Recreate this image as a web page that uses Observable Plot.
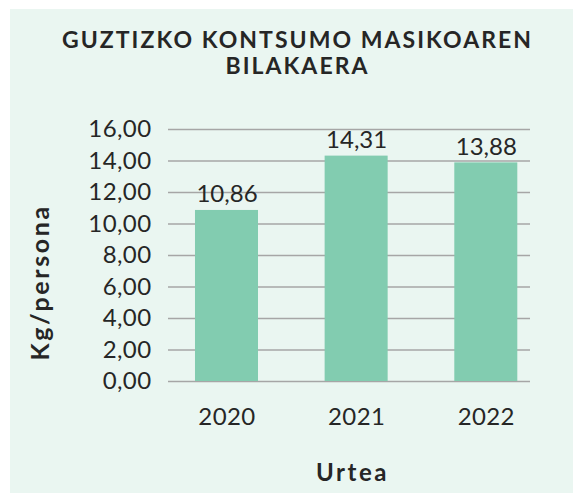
<!DOCTYPE html>
<html>
<head>
<meta charset="utf-8">
<script src="https://cdn.jsdelivr.net/npm/d3@7"></script>
<script src="https://cdn.jsdelivr.net/npm/@observablehq/plot@0.6"></script>
<style>
  html, body { margin: 0; padding: 0; background: #ffffff; }
  #wrap { position: absolute; left: 10px; top: 9px; width: 563px; height: 484px; background: #eaf6f1; overflow: hidden; }
  #title { position: absolute; left: 6px; top: 16.5px; width: 563px; text-align: center; font-family: Lato, sans-serif; font-weight: bold; font-size: 23px; line-height: 26.6px; letter-spacing: 2.05px; color: #262626; }
  #chart { position: absolute; left: 0; top: 81px; }
  #chart g[font-weight="bold"] { letter-spacing: 2.6px; }
  #chart g[aria-label="y-axis tick label"], #chart g[aria-label="x-axis tick label"] { letter-spacing: 0.4px; }
</style>
</head>
<body>
<div id="wrap">
  <div id="title">GUZTIZKO KONTSUMO MASIKOAREN<br>BILAKAERA</div>
  <div id="chart"></div>
</div>
<script>
const years = ["2020", "2021", "2022"];
const values = [10.86, 14.31, 13.88];
const yTicks = [0, 2, 4, 6, 8, 10, 12, 14, 16];
const yTitle = "Kg/persona";
const xTitle = "Urtea";

const data = years.map((y, i) => ({year: y, value: values[i]}));
const fmt = d => d.toFixed(2).replace(".", ",");

const chart = Plot.plot({
  width: 563,
  height: 403,
  marginLeft: 158,
  marginRight: 43,
  marginTop: 39,
  marginBottom: 112,
  style: {background: "transparent", fontFamily: "Lato, sans-serif", fontSize: "24px", color: "#262626"},
  x: {domain: years, paddingInner: 0.514, paddingOuter: 0.153, align: 0.68, round: false, label: null},
  y: {domain: [0, 16], label: null},
  marks: [
    Plot.gridY(yTicks, {stroke: "#a6a6a6", strokeOpacity: 1, strokeWidth: 1.5}),
    Plot.barY(data, {x: "year", y: "value", fill: "#82ccb0"}),
    Plot.text(data, {x: "year", y: "value", text: d => fmt(d.value), lineAnchor: "bottom", dy: -8, fill: "#262626", fontSize: 24}),
    Plot.axisY({ticks: yTicks, tickFormat: fmt, tickSize: 0, tickPadding: 17, label: null, fontSize: 24}),
    Plot.axisX({tickSize: 0, tickPadding: 26, label: null, fontSize: 24}),
    Plot.text([yTitle], {frameAnchor: "left", rotate: -90, dx: -128, dy: 105, fontWeight: "bold", fontSize: 25, fill: "#262626"}),
    Plot.text([xTitle], {frameAnchor: "bottom", lineAnchor: "bottom", dx: 3, dy: 99, fontWeight: "bold", fontSize: 24, fill: "#262626"})
  ]
});
document.getElementById("chart").appendChild(chart);
</script>
</body>
</html>
